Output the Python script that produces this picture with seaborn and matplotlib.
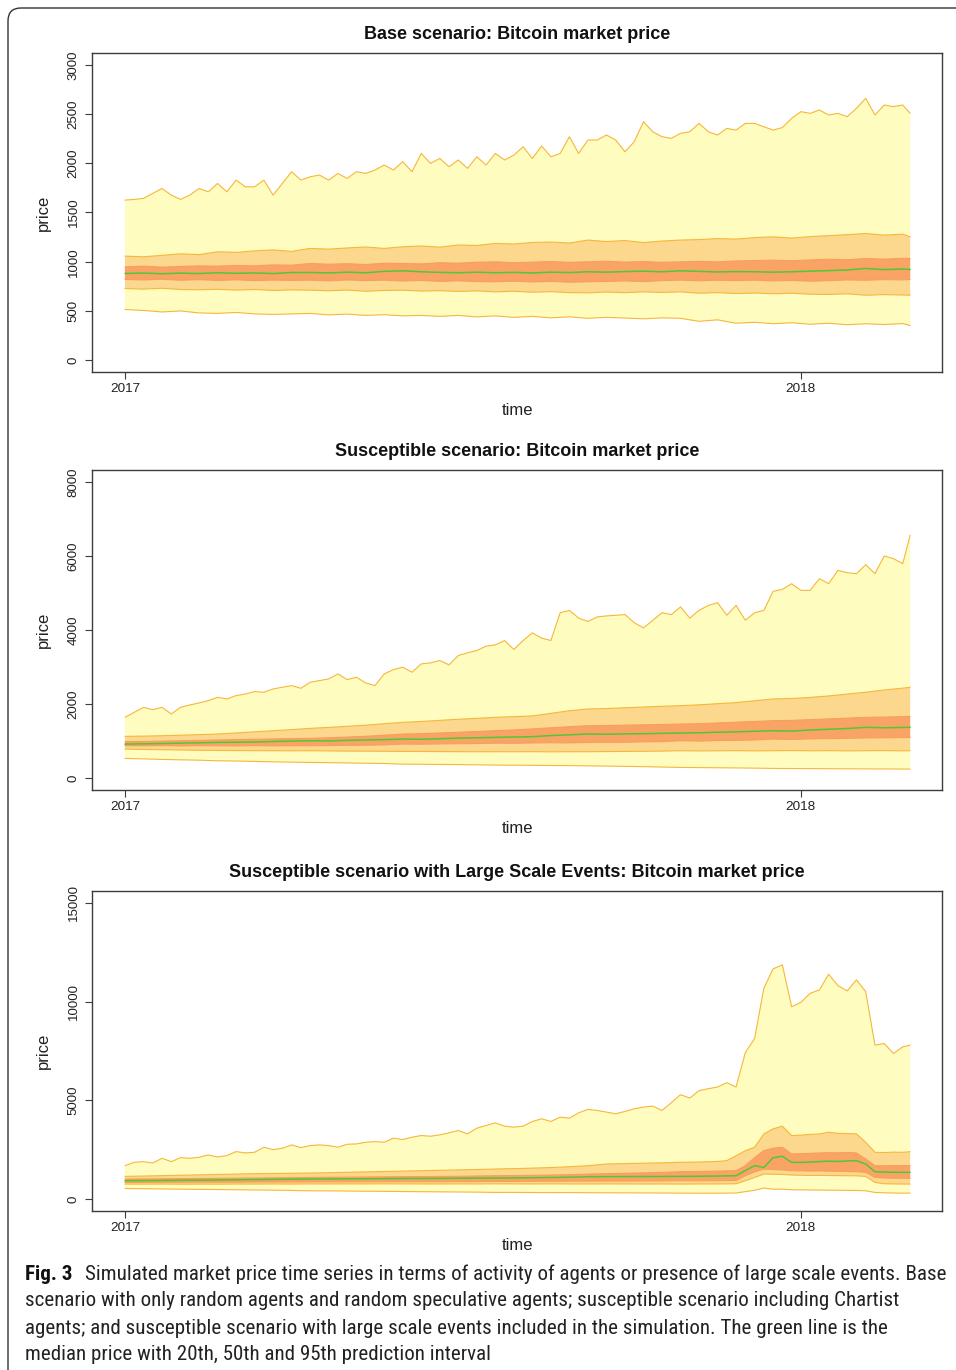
import numpy as np
import matplotlib
matplotlib.use("Agg")
import matplotlib.pyplot as plt
import seaborn as sns
from matplotlib import font_manager
from matplotlib.patches import FancyBboxPatch
from matplotlib.transforms import IdentityTransform

# ---------------- data (days since 2017-01-01) ----------------
days_fine = list(range(0, 421, 5)) + [424]
days_p12 = list(range(0, 421, 10)) + [424]
days_p3 = list(range(0, 321, 10)) + list(range(325, 421, 5)) + [424]

titles = ["Base scenario: Bitcoin market price",
          "Susceptible scenario: Bitcoin market price",
          "Susceptible scenario with Large Scale Events: Bitcoin market price"]
x_tick_days = [0, 365]
x_tick_labels = ["2017", "2018"]
y_ticks = [[0, 500, 1000, 1500, 2000, 2500, 3000],
           [0, 2000, 4000, 6000, 8000],
           [0, 5000, 10000, 15000]]
y_tops = [3000, 8000, 15000]

# Panel 1 - base scenario
p1_hi95 = [1626, 1633, 1643, 1694, 1744, 1677, 1633, 1677, 1744, 1710,
           1795, 1710, 1829, 1761, 1761, 1829, 1677, 1795, 1914, 1829,
           1863, 1880, 1829, 1897, 1846, 1914, 1897, 1931, 1982, 1931,
           2016, 1914, 2100, 1999, 2049, 1965, 2033, 1948, 2066, 1982,
           2100, 2033, 2083, 2168, 2049, 2175, 2066, 2100, 2270, 2100,
           2236, 2236, 2287, 2236, 2117, 2219, 2422, 2320, 2270, 2253,
           2304, 2320, 2405, 2320, 2287, 2354, 2337, 2405, 2405, 2371,
           2337, 2363, 2456, 2524, 2507, 2541, 2490, 2507, 2473, 2558,
           2660, 2490, 2592, 2575, 2592, 2507]
p1_hi50 = [1057, 1050, 1065, 1080, 1072, 1101, 1095, 1110, 1120, 1105,
           1135, 1128, 1140, 1150, 1135, 1152, 1160, 1148, 1170, 1165,
           1186, 1180, 1195, 1200, 1190, 1220, 1205, 1215, 1195, 1210,
           1220, 1225, 1235, 1230, 1245, 1253, 1240, 1255, 1265, 1275,
           1287, 1270, 1280, 1253]
p1_hi20 = [948, 955, 945, 952, 958, 955, 962, 958, 968, 965,
           982, 975, 980, 972, 985, 982, 978, 990, 985, 995,
           999, 990, 996, 1002, 994, 999, 1005, 996, 1002, 994,
           999, 1004, 998, 1008, 1012, 1016, 1010, 1018, 1025, 1020,
           1033, 1026, 1035, 1033]
p1_med = [881, 885, 878, 884, 880, 888, 882, 886, 880, 890,
          891, 886, 894, 888, 902, 908, 898, 892, 888, 894,
          888, 892, 886, 894, 890, 898, 894, 900, 904, 898,
          908, 902, 896, 900, 898, 894, 898, 904, 910, 916,
          932, 920, 926, 921]
p1_lo20 = [820, 815, 822, 812, 818, 810, 816, 808, 814, 810,
           813, 806, 815, 808, 813, 804, 810, 800, 806, 798,
           796, 802, 794, 800, 792, 796, 800, 805, 798, 808,
           813, 806, 812, 808, 813, 805, 810, 802, 808, 815,
           812, 818, 815, 820]
p1_lo50 = [728, 722, 730, 718, 715, 720, 712, 718, 708, 714,
           711, 705, 712, 700, 708, 711, 702, 706, 698, 704,
           694, 700, 690, 696, 686, 684, 692, 686, 694, 688,
           694, 680, 686, 677, 682, 675, 680, 670, 668, 674,
           660, 666, 662, 660]
p1_lo95 = [515, 505, 490, 500, 480, 475, 485, 470, 465, 470,
           475, 460, 468, 455, 462, 450, 455, 445, 455, 440,
           450, 435, 445, 430, 440, 425, 435, 428, 420, 430,
           425, 395, 410, 375, 385, 370, 380, 365, 375, 360,
           370, 362, 372, 352]

# Panel 2 - susceptible scenario
p2_hi95 = [1642, 1777, 1912, 1849, 1912, 1732, 1912, 1975, 2030, 2093,
           2183, 2138, 2228, 2273, 2337, 2319, 2409, 2454, 2498, 2427,
           2589, 2634, 2679, 2814, 2661, 2724, 2571, 2498, 2814, 2932,
           2995, 2860, 3085, 3112, 3176, 3058, 3311, 3383, 3446, 3563,
           3599, 3716, 3473, 3716, 3924, 3780, 3716, 4466, 4529, 4321,
           4231, 4352, 4380, 4398, 4416, 4199, 4055, 4262, 4466, 4416,
           4623, 4321, 4529, 4664, 4736, 4398, 4664, 4262, 4466, 4529,
           5043, 5097, 5250, 5070, 5070, 5385, 5250, 5611, 5548, 5520,
           5764, 5520, 5999, 5927, 5791, 6558]
p2_hi50 = [1128, 1135, 1145, 1160, 1175, 1191, 1220, 1250, 1280, 1310,
           1344, 1370, 1400, 1430, 1470, 1506, 1530, 1560, 1590, 1615,
           1642, 1660, 1680, 1750, 1820, 1867, 1880, 1900, 1920, 1940,
           1957, 1980, 2010, 2040, 2090, 2138, 2150, 2180, 2220, 2270,
           2319, 2380, 2430, 2454]
p2_hi20 = [983, 990, 1000, 1010, 1020, 1030, 1040, 1050, 1060, 1068,
           1074, 1090, 1110, 1130, 1160, 1191, 1200, 1220, 1240, 1260,
           1281, 1300, 1330, 1360, 1390, 1416, 1420, 1430, 1440, 1450,
           1461, 1470, 1490, 1510, 1530, 1551, 1560, 1580, 1600, 1620,
           1642, 1650, 1660, 1669]
p2_med = [920, 925, 935, 945, 955, 965, 970, 975, 990, 1000,
          1010, 1005, 1020, 1030, 1040, 1055, 1050, 1065, 1080, 1090,
          1101, 1110, 1120, 1150, 1170, 1191, 1185, 1195, 1200, 1210,
          1218, 1225, 1240, 1250, 1265, 1281, 1270, 1300, 1320, 1340,
          1372, 1360, 1370, 1372]
p2_lo20 = [875, 872, 878, 870, 876, 874, 870, 878, 872, 876,
           875, 880, 885, 890, 898, 920, 915, 925, 930, 935,
           944, 940, 950, 955, 952, 965, 970, 968, 980, 985,
           1010, 1000, 1015, 1020, 1030, 1055, 1045, 1060, 1065, 1075,
           1085, 1090, 1095, 1101]
p2_lo50 = [785, 775, 768, 760, 752, 748, 745, 742, 740, 738,
           740, 735, 730, 728, 725, 722, 720, 718, 715, 713,
           713, 712, 715, 710, 714, 713, 718, 722, 725, 730,
           740, 735, 738, 742, 736, 740, 745, 738, 742, 736,
           740, 744, 738, 740]
p2_lo95 = [532, 520, 505, 495, 485, 469, 462, 452, 440, 432,
           424, 418, 410, 402, 395, 379, 375, 370, 366, 360,
           352, 350, 346, 342, 338, 333, 325, 318, 310, 300,
           289, 285, 280, 276, 270, 262, 260, 258, 255, 252,
           250, 248, 246, 244]

# Panel 3 - susceptible scenario with large scale events
p3_hi95 = [1695, 1864, 1898, 1830, 2068, 1898, 2102, 2068, 2118, 2237,
           2135, 2203, 2407, 2339, 2373, 2627, 2508, 2576, 2746, 2610,
           2712, 2746, 2712, 2627, 2780, 2796, 2881, 2915, 2881, 3085,
           3017, 3135, 3220, 3186, 3254, 3355, 3474, 3305, 3593, 3728,
           3864, 3694, 3644, 3694, 3932, 4067, 3932, 4152, 4101, 4372,
           4542, 4491, 4406, 4322, 4440, 4576, 4660, 4711, 4491, 4881,
           5287, 5118, 5490, 5592, 5676, 5897, 5676, 7422, 8134, 10676,
           11659, 11862, 9743, 9963, 10421, 10590, 11387, 10811, 10540, 11099,
           10506, 7795, 7880, 7371, 7710, 7795]
p3_hi50 = [1153, 1170, 1190, 1210, 1230, 1250, 1270, 1290, 1300, 1310,
           1322, 1340, 1360, 1380, 1400, 1420, 1440, 1460, 1480, 1500,
           1525, 1545, 1570, 1600, 1640, 1695, 1779, 1800, 1820, 1840,
           1864, 1880, 1910,
           1949, 2200, 2450, 2626, 3300, 3559, 3694, 3219, 3240, 3280,
           3300, 3389, 3330, 3320, 3305, 2880, 2372, 2360, 2380, 2372, 2400]
p3_hi20 = [1017, 1025, 1030, 1040, 1048, 1055, 1062, 1070, 1080, 1090,
           1101, 1108, 1115, 1122, 1130, 1138, 1145, 1152, 1160, 1172,
           1186, 1195, 1205, 1220, 1240, 1271, 1290, 1310, 1330, 1355,
           1389, 1400, 1420,
           1430, 1440, 1695, 2100, 2457, 2580, 2626, 2288, 2300, 2320,
           2340, 2350, 2345, 2360, 2339, 2034, 1695, 1690, 1700, 1695, 1695]
p3_med = [932, 938, 945, 955, 962, 970, 980, 990, 998, 1008,
          1017, 1022, 1028, 1032, 1038, 1042, 1048, 1052, 1058, 1062,
          1067, 1075, 1085, 1095, 1110, 1135, 1140, 1142, 1145, 1148,
          1152, 1160, 1170,
          1178, 1186, 1440, 1700, 1600, 2100, 2169, 1864, 1860, 1880,
          1900, 1920, 1910, 1930, 1949, 1779, 1389, 1370, 1360, 1356, 1356]
p3_lo20 = [847, 850, 852, 855, 858, 860, 862, 865, 868, 870,
           872, 875, 876, 878, 880, 882, 884, 886, 888, 890,
           898, 900, 905, 908, 910, 912, 915, 918, 920, 925,
           932, 930, 935,
           938, 945, 1186, 1380, 1525, 1500, 1480, 1440, 1430, 1420,
           1425, 1415, 1410, 1400, 1390, 1356, 1101, 1070, 1060, 1055, 1050]
p3_lo50 = [763, 760, 765, 758, 762, 760, 765, 762, 768, 765,
           770, 768, 772, 770, 775, 772, 770, 768, 772, 770,
           775, 772, 770, 774, 770, 768, 772, 770, 766, 768,
           763, 768, 770,
           772, 780, 932, 1100, 1271, 1260, 1250, 1220, 1210, 1200,
           1205, 1195, 1190, 1185, 1180, 1152, 847, 780, 770, 765, 763]
p3_lo95 = [542, 530, 515, 505, 495, 485, 475, 465, 455, 440,
           424, 420, 410, 400, 395, 385, 378, 370, 362, 355,
           339, 340, 335, 330, 332, 325, 320, 318, 315, 310,
           305, 300, 302,
           305, 310, 380, 450, 560, 500, 505, 474, 470, 465,
           460, 455, 450, 445, 440, 424, 339, 320, 310, 305, 305]

caption_bold = "Fig. 3"
caption_lines = [
    "Simulated market price time series in terms of activity of agents or presence of large scale events. Base",
    "scenario with only random agents and random speculative agents; susceptible scenario including Chartist",
    "agents; and susceptible scenario with large scale events included in the simulation. The green line is the",
    "median price with 20th, 50th and 95th prediction interval",
]

# ---------------- styling ----------------
C95 = "#FFFCBF"
C50 = "#FCD88E"
C20 = "#F9A466"
LINE = "#F6B73C"
L20 = "#F7A05A"
GREEN = "#4FC936"
EDGE = "#3c3c3c"

sns.set_theme(style="ticks")
plt.rcParams['font.family'] = ['Liberation Sans', 'DejaVu Sans']

W, H = 956, 1370
fig = plt.figure(figsize=(W / 100, H / 100), dpi=100)
fig.patch.set_facecolor("white")

boxes = [(92, 53, 942, 372), (92, 470, 942, 790), (92, 891, 942, 1211)]
xlabel_pads = [5.5, 5.5, 3.0]

panels = [
    (days_p12, p1_hi95, p1_hi50, p1_hi20, p1_med, p1_lo20, p1_lo50, p1_lo95),
    (days_p12, p2_hi95, p2_hi50, p2_hi20, p2_med, p2_lo20, p2_lo50, p2_lo95),
    (days_p3, p3_hi95, p3_hi50, p3_hi20, p3_med, p3_lo20, p3_lo50, p3_lo95),
]

for i, (box, pdata) in enumerate(zip(boxes, panels)):
    x0, y0, x1, y1 = box
    ax = fig.add_axes([x0 / W, 1 - y1 / H, (x1 - x0) / W, (y1 - y0) / H])
    dm, hi95, hi50, hi20, med, lo20, lo50, lo95 = [np.asarray(a, float) for a in pdata]
    df = np.asarray(days_fine, float)
    # fan polygons
    ax.fill(np.r_[df, dm[::-1]], np.r_[hi95, lo95[::-1]], color=C95, lw=0, zorder=1)
    ax.fill(np.r_[dm, dm[::-1]], np.r_[hi50, lo50[::-1]], color=C50, lw=0, zorder=2)
    ax.fill(np.r_[dm, dm[::-1]], np.r_[hi20, lo20[::-1]], color=C20, lw=0, zorder=3)
    for xx, yy, col, z in [(df, hi95, LINE, 4), (dm, lo95, LINE, 4),
                           (dm, hi50, LINE, 4), (dm, lo50, LINE, 4),
                           (dm, hi20, L20, 4), (dm, lo20, L20, 4)]:
        sns.lineplot(x=xx, y=yy, ax=ax, color=col, lw=0.8, estimator=None,
                     sort=False, zorder=z)
    sns.lineplot(x=dm, y=med, ax=ax, color=GREEN, lw=1.1, estimator=None,
                 sort=False, zorder=5)

    top = y_tops[i]
    ax.set_ylim(-0.04 * top, 1.04 * top)
    ax.set_xlim(-17.8, 441.2)
    ax.set_yticks(y_ticks[i])
    ax.set_yticklabels([str(v) for v in y_ticks[i]], fontsize=9.5, color="#222222")
    for lab in ax.get_yticklabels():
        lab.set_rotation(90)
        lab.set_va("center")
    ax.set_xticks(x_tick_days)
    ax.set_xticklabels(x_tick_labels, fontsize=9.7, color="#222222")
    ax.tick_params(axis="both", length=5, width=0.8, color=EDGE, pad=3)
    ax.tick_params(axis="y", pad=4)
    for s in ax.spines.values():
        s.set_visible(True)
        s.set_color(EDGE)
        s.set_linewidth(1.0)
    ax.set_xlabel("time", fontsize=12, color="#222222", labelpad=xlabel_pads[i])
    ax.set_ylabel("price", fontsize=12, color="#222222", labelpad=12)
    ax.set_title(titles[i], fontsize=13, fontweight="bold", color="#111111", pad=10)
    ax.grid(False)

# ---------------- caption ----------------
def wnum(w):
    if isinstance(w, str):
        return font_manager.weight_dict.get(w, 400)
    return int(w)

cap_family, cap_weight, cap_stretch = "Open Sans", 400, "normal"
found = False
for cand in ["Liberation Sans Narrow", "Roboto Condensed", "Noto Sans Condensed",
             "Open Sans Condensed"]:
    ws = [wnum(f.weight) for f in font_manager.fontManager.ttflist
          if f.name == cand and f.style == "normal"]
    if ws:
        cap_family = cand
        cap_weight = min(ws, key=lambda w: abs(w - 400))
        found = True
        break
if not found:
    for f in font_manager.fontManager.ttflist:
        if (f.name in ("Noto Sans", "Open Sans", "Roboto") and f.style == "normal"
                and f.stretch in ("condensed", "semi-condensed")
                and wnum(f.weight) == 400):
            cap_family, cap_weight, cap_stretch = f.name, 400, f.stretch
            break

cap_y = [1272, 1299, 1326, 1353]
left_px = 25
right_px = 950
fig.canvas.draw()
renderer = fig.canvas.get_renderer()

size0 = 14.0
fam = [cap_family, "DejaVu Sans"]
tb = fig.text(left_px / W, 1 - cap_y[0] / H, caption_bold, fontsize=size0,
              fontweight="bold", family=fam, fontstretch=cap_stretch,
              va="center_baseline", ha="left", color="#111111")
tr = fig.text(0, 1 - cap_y[0] / H, caption_lines[0], fontsize=size0,
              fontweight=cap_weight, family=fam, fontstretch=cap_stretch,
              va="center_baseline", ha="left", color="#222222")
wb = tb.get_window_extent(renderer).width
wr = tr.get_window_extent(renderer).width
gap = 0.6 * size0 * 100 / 72
scale = (right_px - left_px) / (wb + gap + wr)
size = size0 * scale
tb.set_fontsize(size)
tr.set_fontsize(size)
wb = tb.get_window_extent(renderer).width
gap = 0.6 * size * 100 / 72
tr.set_x((left_px + wb + gap) / W)
for line, yy in zip(caption_lines[1:], cap_y[1:]):
    fig.text(left_px / W, 1 - yy / H, line, fontsize=size, fontweight=cap_weight,
             family=fam, fontstretch=cap_stretch, va="center_baseline",
             ha="left", color="#222222")

# rounded frame around the figure
frame = FancyBboxPatch((8, -30), 1000, H - 8 + 30,
                       boxstyle="round,pad=0,rounding_size=13",
                       transform=IdentityTransform(), fill=False,
                       edgecolor="#333333", linewidth=1.0)
fig.patches.append(frame)

fig.savefig("out.png", dpi=100, facecolor="white")
